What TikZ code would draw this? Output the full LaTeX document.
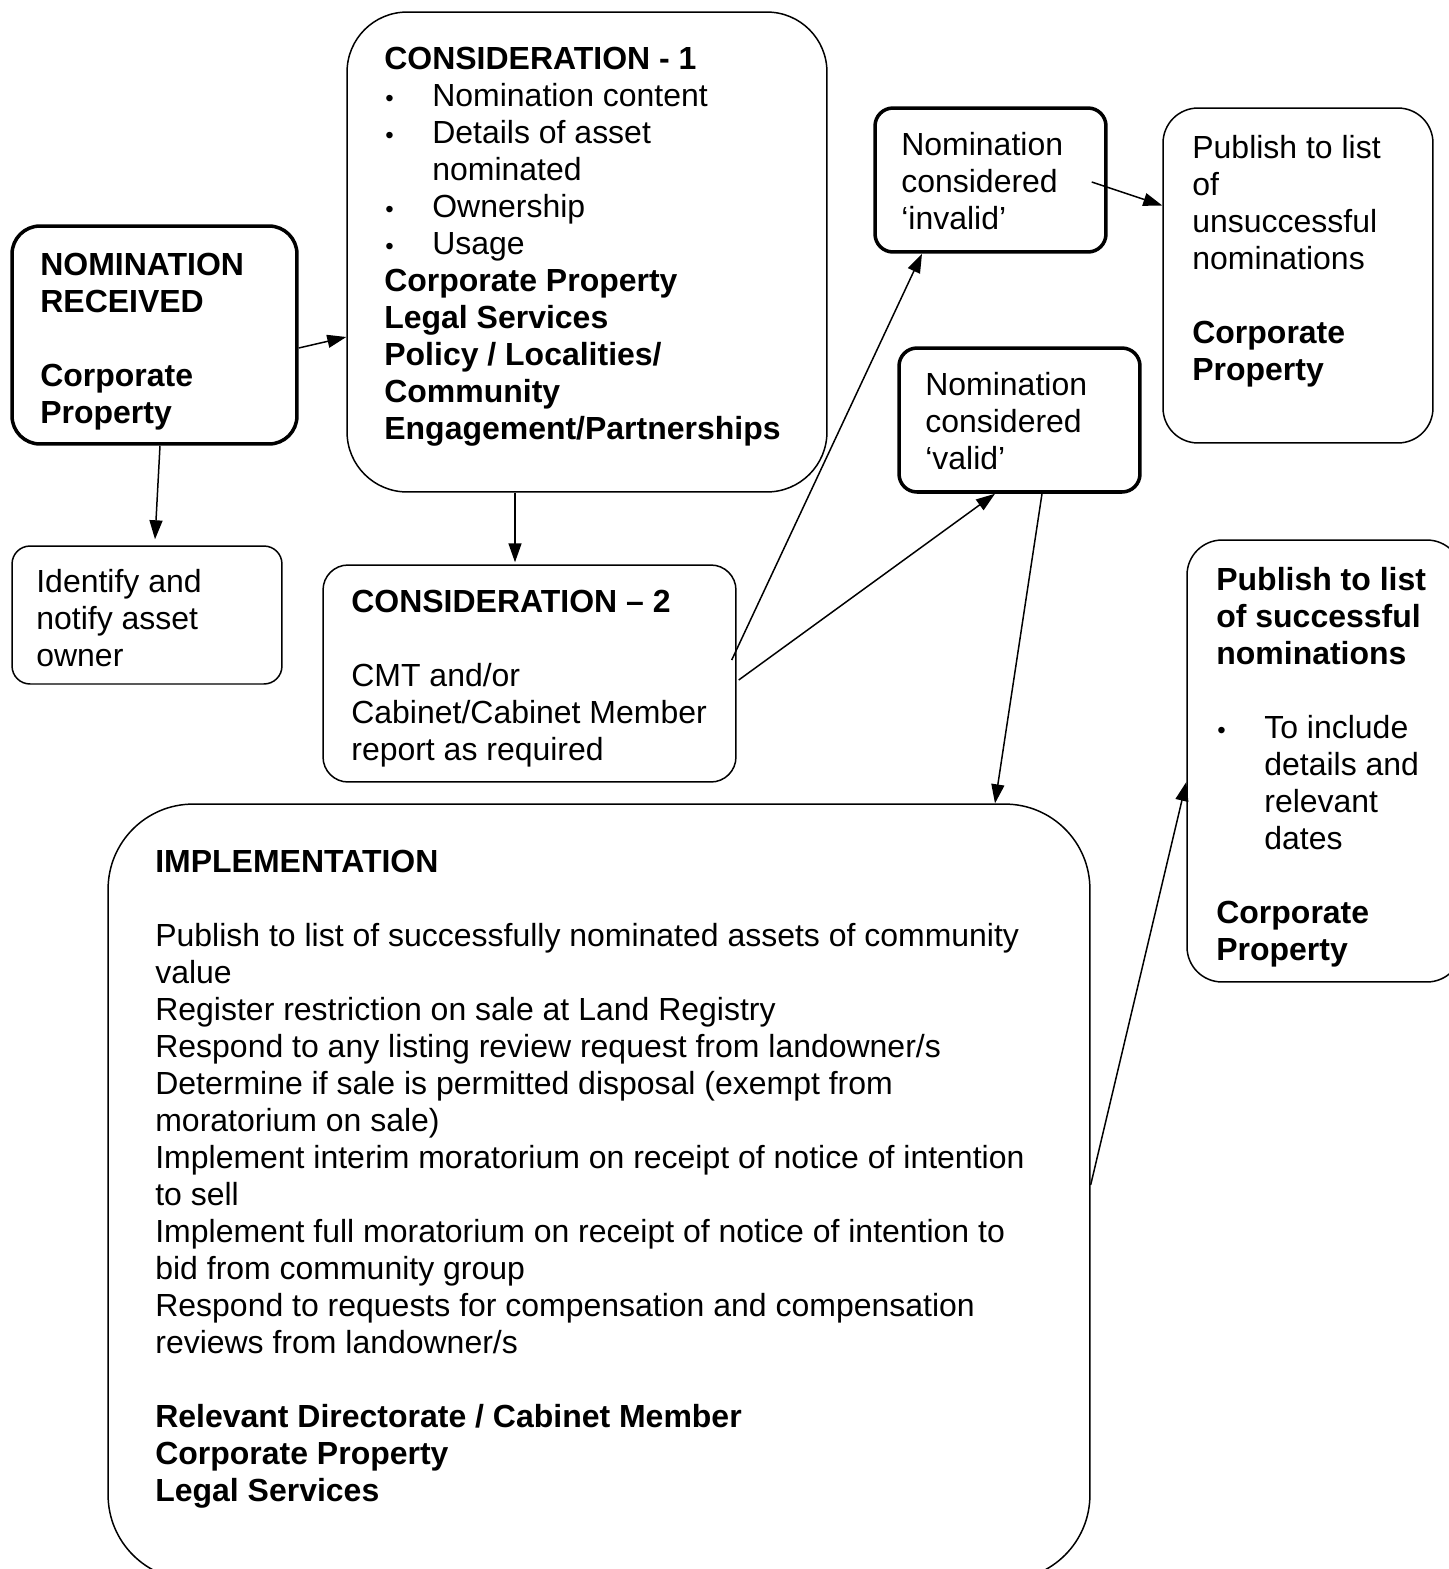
\documentclass[tikz,border=0pt]{standalone}
\usepackage{fontspec}
\setmainfont{Liberation Sans}
\usepackage{graphicx}
\usetikzlibrary{arrows.meta,calc,positioning}

% small list bullet and the matching hanging indent
\newcommand{\blt}{\makebox[0.96cm][l]{\hspace{0.02cm}\scalebox{0.75}{•}}}
\newcommand{\ind}{\hspace*{0.96cm}}

\begin{document}
\begin{tikzpicture}[x=0.02cm,y=-0.02cm,
  box/.style={draw, line width=0.85pt, rounded corners=#1},
  box/.default=0.4cm,
  thickbox/.style={draw, line width=2pt, rounded corners=#1},
  thickbox/.default=0.36cm,
  txt/.style={anchor=north west, inner sep=0pt, align=left, font=\fontsize{18.2}{21.06}\selectfont},
  arr/.style={-{Triangle[length=0.38cm,width=0.26cm]}, line width=0.85pt}]

  % page frame (pixel units of the original sheet)
  \useasboundingbox (0,0) rectangle (1449,1569);

  % Boxes
  \node[thickbox=0.56cm, minimum width=5.7cm, minimum height=4.36cm] (nr) at (154.5,335) {};
  \node[box=1.2cm, minimum width=9.6cm, minimum height=9.6cm] (c1) at (587,252) {};
  \node[box=0.36cm, minimum width=5.4cm, minimum height=2.76cm] (id) at (147,615) {};
  \node[box=0.5cm, minimum width=8.26cm, minimum height=4.34cm] (c2) at (529.5,673.5) {};
  \node[thickbox, minimum width=4.62cm, minimum height=2.88cm] (inv) at (990.5,180) {};
  \node[box=0.7cm, minimum width=5.4cm, minimum height=6.7cm] (uns) at (1298,275.5) {};
  \node[thickbox, minimum width=4.82cm, minimum height=2.88cm] (val) at (1019.5,420) {};
  \node[box=0.7cm, minimum width=5.5cm, minimum height=8.84cm] (suc) at (1324.5,761) {};
  \node[box=1.7cm, minimum width=19.64cm, minimum height=15.52cm] (impl) at (599,1192) {};

  % Texts
  \node[txt] (nrtext) at (40,253) {\bfseries NOMINATION\\ \bfseries RECEIVED\\[21pt]
    \bfseries Corporate\\ \bfseries Property};
  \node[txt] (c1text) at (384,47) {\bfseries CONSIDERATION - 1\\
    \blt Nomination content\\
    \blt Details of asset\\
    \ind nominated\\
    \blt Ownership\\
    \blt Usage\\
    \bfseries Corporate Property\\
    \bfseries Legal Services\\
    \bfseries Policy / Localities/\\
    \bfseries Community\\
    \bfseries Engagement/Partnerships};
  \node[txt] (idtext) at (36,569) {Identify and\\ notify asset\\ owner};
  \node[txt] (c2text) at (351,590) {\bfseries CONSIDERATION – 2\\[21pt]
    CMT and/or\\ Cabinet/Cabinet Member\\ report as required};
  \node[txt] (invtext) at (901,132) {Nomination\\ considered\\ ‘invalid’};
  \node[txt] (unstext) at (1192,135) {Publish to list\\ of\\ unsuccessful\\ nominations\\[21pt]
    \bfseries Corporate\\ \bfseries Property};
  \node[txt] (valtext) at (925,372) {Nomination\\ considered\\ ‘valid’};
  \node[txt] (suctext) at (1216,567) {\bfseries Publish to list\\ \bfseries of successful\\
    \bfseries nominations\\[21pt]
    \blt To include\\ \ind details and\\ \ind relevant\\ \ind dates\\[21pt]
    \bfseries Corporate\\ \bfseries Property};
  \node[txt] (impltext) at (155,850) {\bfseries IMPLEMENTATION\\[21pt]
    Publish to list of successfully nominated assets of community\\
    value\\
    Register restriction on sale at Land Registry\\
    Respond to any listing review request from landowner/s\\
    Determine if sale is permitted disposal (exempt from\\
    moratorium on sale)\\
    Implement interim moratorium on receipt of notice of intention\\
    to sell\\
    Implement full moratorium on receipt of notice of intention to\\
    bid from community group\\
    Respond to requests for compensation and compensation\\
    reviews from landowner/s\\[21pt]
    \bfseries Relevant Directorate / Cabinet Member\\
    \bfseries Corporate Property\\
    \bfseries Legal Services};

  % Connectors
  \draw[arr] ([shift={(0,13)}]nr.east) -- ([shift={(0,85)}]c1.west);
  \draw[arr] ([shift={(5.5,0)}]nr.south) -- ([shift={(8,-6)}]id.north);
  \draw[arr] ([shift={(-72,0)}]c1.south) -- ([shift={(-14.5,-2)}]c2.north);
  \draw[arr] ([shift={(-5,-13.5)}]c2.east) -- ([shift={(-68.5,0)}]inv.south);
  \draw[arr] ([shift={(2,6.5)}]c2.east) -- ([shift={(-24.5,0)}]val.south);
  \draw[arr] ([shift={(-16,2)}]inv.east) -- ([shift={(0,-70)}]uns.west);
  \draw[arr] ([shift={(22.5,0)}]val.south) -- ([shift={(396,0)}]impl.north);
  \draw[arr] ([shift={(0,-7)}]impl.east) -- ([shift={(0,21)}]suc.west);
\end{tikzpicture}
\end{document}
